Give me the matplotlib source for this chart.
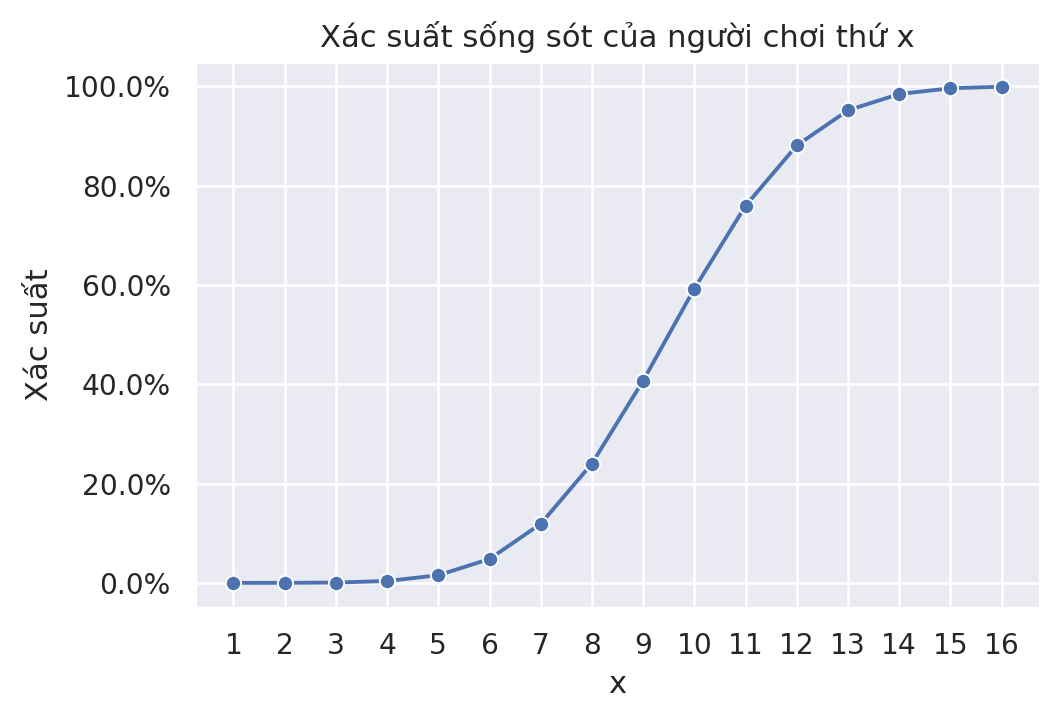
import matplotlib
matplotlib.use("Agg")
import matplotlib.pyplot as plt
import seaborn as sns
from matplotlib.ticker import PercentFormatter

sns.set_theme(style="darkgrid")

players = list(range(1, 17))
survival = [0.0000038, 0.0000725, 0.000656, 0.00377, 0.0154, 0.0481, 0.1189, 0.2403,
            0.4073, 0.5927, 0.7597, 0.8811, 0.9519, 0.9846, 0.9962, 0.9993]

dpi = 184
fig = plt.figure(figsize=(1057 / dpi, 720 / dpi), dpi=dpi)
ax = fig.add_axes([0.1845, 0.156, 0.7995, 0.758])
sns.lineplot(x=players, y=survival, marker="o", ax=ax)
ax.set_xticks(players)
ax.yaxis.set_major_formatter(PercentFormatter(1, decimals=1))
ax.set_title("Xác suất sống sót của người chơi thứ x")
ax.set_xlabel("x")
ax.set_ylabel("Xác suất")
fig.savefig("out.png", dpi=dpi)
